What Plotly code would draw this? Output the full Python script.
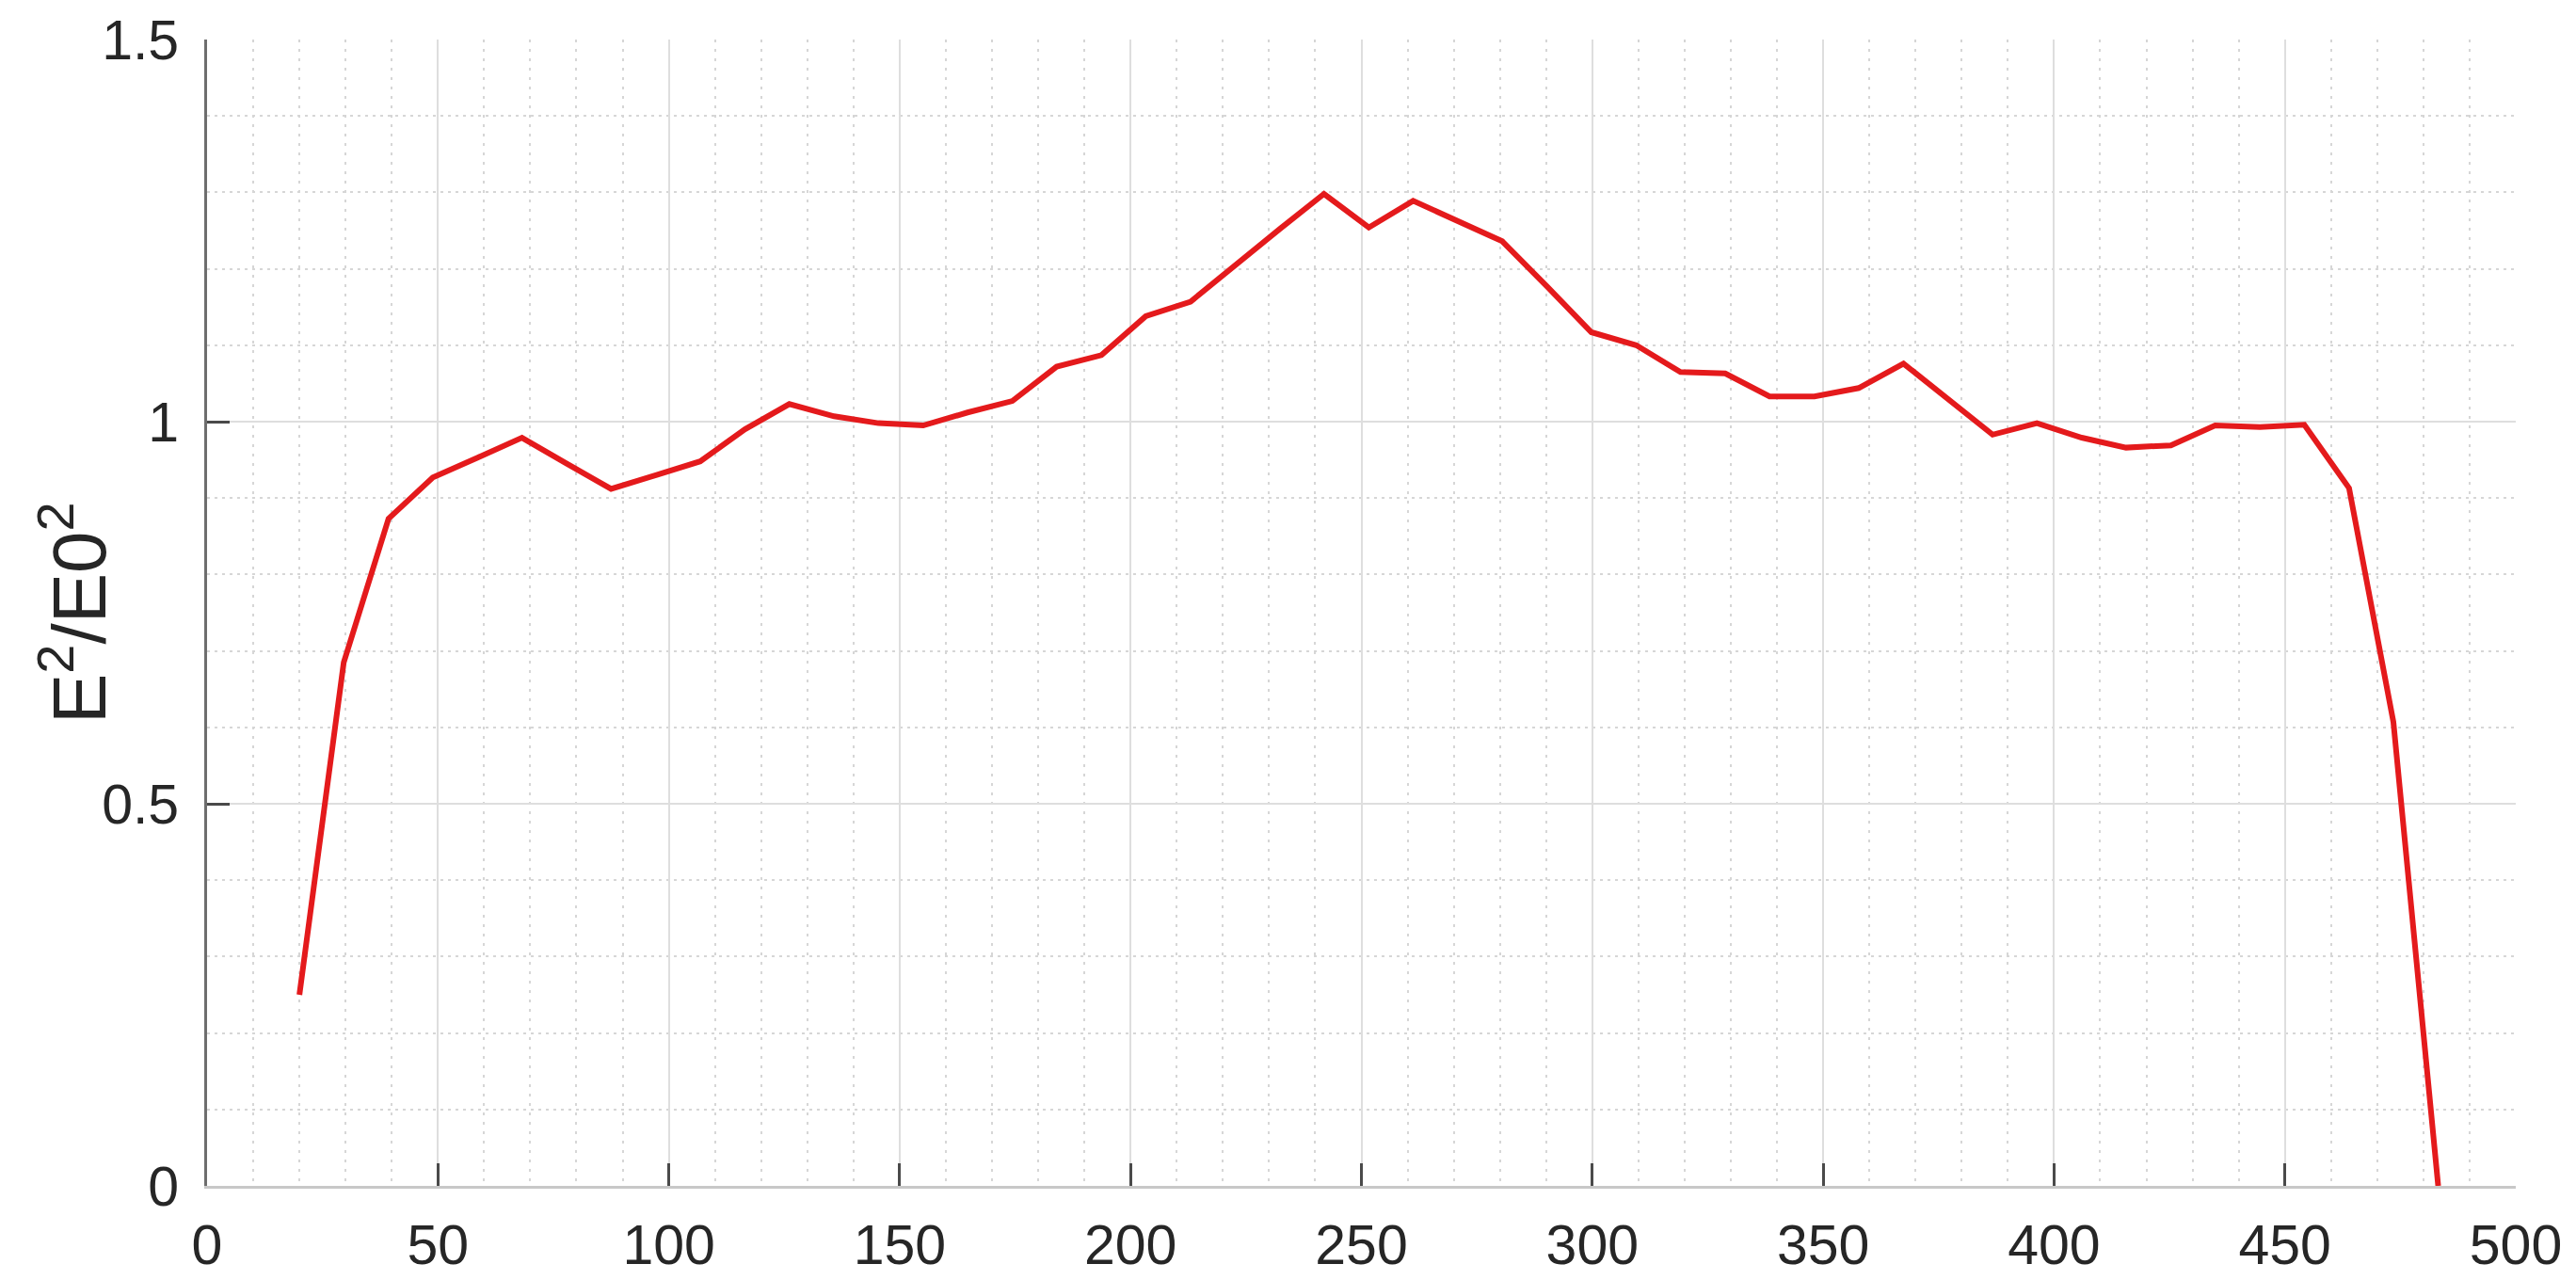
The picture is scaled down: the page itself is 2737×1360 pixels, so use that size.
import plotly.graph_objects as go

# Data
x_pos = [20, 29.6, 39.3, 48.9, 58.6, 68.2, 77.9, 87.5, 97.2, 106.8,
         116.5, 126.1, 135.8, 145.4, 155.1, 164.7, 174.4, 184, 193.7, 203.3,
         213, 222.6, 232.3, 241.9, 251.6, 261.2, 270.9, 280.5, 290.2, 299.8,
         309.5, 319.1, 328.8, 338.4, 348.1, 357.7, 367.4, 377, 386.7, 396.3,
         406, 415.6, 425.3, 434.9, 444.6, 454.2, 463.9, 473.5, 483.2]
e_ratio = [0.25, 0.685, 0.873, 0.927, 0.953, 0.979, 0.945, 0.912, 0.93, 0.948,
           0.99, 1.023, 1.007, 0.998, 0.995, 1.012, 1.027, 1.072, 1.087, 1.138,
           1.157, 1.205, 1.252, 1.298, 1.254, 1.289, 1.262, 1.236, 1.177, 1.117,
           1.100, 1.065, 1.063, 1.033, 1.033, 1.044, 1.076, 1.03, 0.983, 0.998,
           0.979, 0.966, 0.969, 0.995, 0.993, 0.996, 0.913, 0.607, 0.0]

x_ticks = [0, 50, 100, 150, 200, 250, 300, 350, 400, 450, 500]
y_ticks = [0, 0.5, 1, 1.5]
y_tick_labels = ["0", "0.5", "1", "1.5"]
y_title = "E<sup>2</sup>/E0<sup>2</sup>"

FONT = "Liberation Sans, Arial, sans-serif"
TXT = "#262626"
W, H = 2737, 1360
ML, MR, MT, MB = 220, 64, 42, 100

fig = go.Figure()
fig.add_trace(go.Scatter(
    x=x_pos, y=e_ratio, mode="lines",
    line=dict(color="#e41a1c", width=6),
    showlegend=False, hoverinfo="skip",
))

fig.update_layout(
    width=W, height=H,
    margin=dict(l=ML, r=MR, t=MT, b=MB, autoexpand=False),
    paper_bgcolor="white", plot_bgcolor="white",
    font=dict(family=FONT, size=59, color=TXT),
)

fig.update_xaxes(
    range=[0, 500], tickvals=x_ticks, ticktext=[str(v) for v in x_ticks],
    showgrid=True, gridcolor="#dedede", gridwidth=2,
    minor=dict(dtick=10, tick0=0, showgrid=True, gridcolor="#d6d6d6",
               gridwidth=2, griddash="3px,7px", ticks=""),
    showline=True, linecolor="#c8c8c8", linewidth=3,
    ticks="inside", ticklen=24, tickwidth=3, tickcolor="#4a4a4a",
    ticklabelstandoff=9, automargin=False,
    tickfont=dict(family=FONT, size=59, color=TXT),
    zeroline=False,
)

fig.update_yaxes(
    range=[0, 1.5], tickvals=y_ticks, ticktext=y_tick_labels,
    showgrid=True, gridcolor="#dedede", gridwidth=2,
    minor=dict(dtick=0.1, tick0=0, showgrid=True, gridcolor="#d6d6d6",
               gridwidth=2, griddash="3px,5px", ticks=""),
    showline=True, linecolor="#6e6e6e", linewidth=3,
    ticks="inside", ticklen=24, tickwidth=3, tickcolor="#4a4a4a",
    ticklabelstandoff=15, automargin=False,
    tickfont=dict(family=FONT, size=59, color=TXT),
    zeroline=False,
)

plot_w = W - ML - MR
fig.add_annotation(
    text=y_title, xref="paper", yref="paper",
    x=-(ML - 78) / plot_w, y=0.5, xanchor="center", yanchor="middle",
    textangle=-90, showarrow=False,
    font=dict(family=FONT, size=80, color=TXT),
)

fig.write_html(
    "out.html",
    config={"displayModeBar": False},
    post_script="document.body.style.margin='0';document.body.style.overflow='hidden';",
)
